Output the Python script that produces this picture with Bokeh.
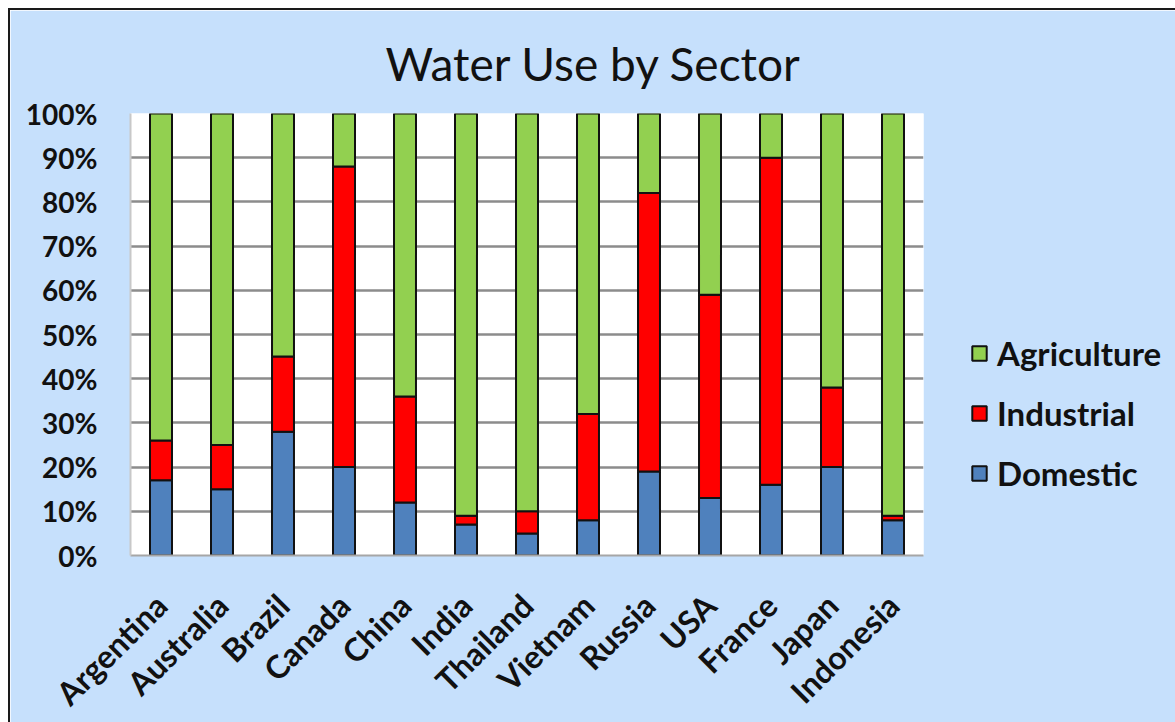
from math import pi
from bokeh.plotting import figure
from bokeh.models import (FactorRange, Range1d, NumeralTickFormatter, FixedTicker,
                          Legend, LegendItem, Title, ColumnDataSource)
from bokeh.embed import file_html
from bokeh.resources import INLINE

countries = ["Argentina", "Australia", "Brazil", "Canada", "China", "India", "Thailand",
             "Vietnam", "Russia", "USA", "France", "Japan", "Indonesia"]
domestic = [17, 15, 28, 20, 12, 7, 5, 8, 19, 13, 16, 20, 8]
industrial = [9, 10, 17, 68, 24, 2, 5, 24, 63, 46, 74, 18, 1]
agriculture = [74, 75, 55, 12, 64, 91, 90, 68, 18, 41, 10, 62, 91]
y_ticks = [0.0, 0.1, 0.2, 0.3, 0.4, 0.5, 0.6, 0.7, 0.8, 0.9, 1.0]

sectors = ["Domestic", "Industrial", "Agriculture"]
colors = ["#4F81BD", "#FF0000", "#92D050"]

source = ColumnDataSource(dict(
    country=countries,
    Domestic=[v / 100 for v in domestic],
    Industrial=[v / 100 for v in industrial],
    Agriculture=[v / 100 for v in agriculture],
))

BG = "#C6E0FC"
p = figure(x_range=FactorRange(*countries, range_padding=0), y_range=Range1d(0, 1),
           frame_width=793, frame_height=442, output_backend="svg", toolbar_location=None,
           min_border_left=120, min_border_right=252, min_border_top=103, min_border_bottom=167)
p.styles = {"margin-left": "8px", "margin-top": "8px",
            "border-left": "2px solid #1a1a1a", "border-top": "2px solid #1a1a1a"}
p.border_fill_color = BG
p.background_fill_color = "white"
p.outline_line_color = None

renderers = p.vbar_stack(sectors, x="country", width=0.36, source=source,
                         color=colors, line_color="#111111", line_width=2)

# grid
p.xgrid.grid_line_color = None
p.ygrid.ticker = FixedTicker(ticks=y_ticks)
p.ygrid.grid_line_color = "#8C8C8C"
p.ygrid.grid_line_width = 2.5
p.ygrid.level = "underlay"

# y axis
p.yaxis.ticker = FixedTicker(ticks=y_ticks)
p.yaxis.formatter = NumeralTickFormatter(format="0%")
p.yaxis.axis_line_color = "#C8C8C8"
p.yaxis.axis_line_width = 2
p.yaxis.major_tick_line_color = None
p.yaxis.minor_tick_line_color = None
p.yaxis.major_label_text_font = "Lato"
p.yaxis.major_label_text_font_style = "bold"
p.yaxis.major_label_text_font_size = "28px"
p.yaxis.major_label_text_color = "#111111"
p.yaxis.major_label_standoff = 27

# x axis
p.xaxis.axis_line_color = "#A6A6A6"
p.xaxis.axis_line_width = 2
p.xaxis.major_tick_line_color = None
p.xaxis.minor_tick_line_color = None
p.xaxis.major_label_orientation = pi / 4
p.xaxis.major_label_text_font = "Lato"
p.xaxis.major_label_text_font_style = "bold"
p.xaxis.major_label_text_font_size = "32px"
p.xaxis.major_label_text_color = "#111111"
p.xaxis.major_label_standoff = 38

# title
p.title = Title(text="Water Use by Sector", align="left", offset=255, standoff=46,
                text_font="Lato", text_font_style="normal", text_font_size="46px",
                text_color="#111111")

# legend
items = [LegendItem(label=sectors[i], renderers=[renderers[i]]) for i in (2, 1, 0)]
legend = Legend(items=items, location=(47, 62), orientation="vertical")
legend.background_fill_alpha = 0
legend.border_line_alpha = 0
legend.padding = 0
legend.margin = 0
legend.glyph_width = 18
legend.glyph_height = 18
legend.label_standoff = 9
legend.spacing = 20
legend.label_text_font = "Lato"
legend.label_text_font_style = "bold"
legend.label_text_font_size = "33px"
legend.label_text_color = "#111111"
p.add_layout(legend, "right")

open("out.html", "w").write(file_html(p, INLINE))
